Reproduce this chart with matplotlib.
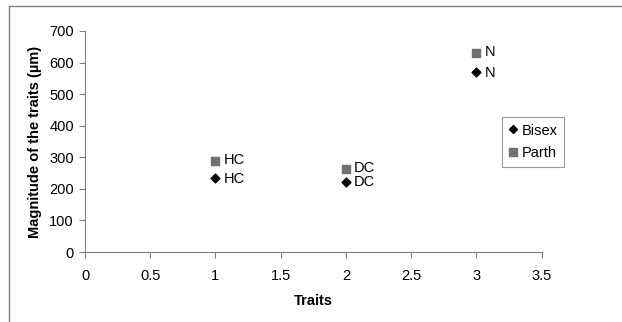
import matplotlib
matplotlib.use("Agg")
import matplotlib.pyplot as plt
from matplotlib.lines import Line2D

plt.rcParams['font.family'] = ['Liberation Sans', 'DejaVu Sans']

traits = ["HC", "DC", "N"]
trait_pos = [1, 2, 3]
bisex = [233, 223, 571]
parth = [288, 262, 630]

fig = plt.figure(figsize=(6.22, 3.22), dpi=100)
ax = fig.add_axes([85 / 622, 1 - 252 / 322, (541.5 - 85) / 622, (252 - 31) / 322])

ax.scatter(trait_pos, bisex, marker='D', s=20, color='black', zorder=3, label='Bisex')
ax.scatter(trait_pos, parth, marker='s', s=30, color='#707070', zorder=3, label='Parth')

# point labels to the right of each marker
for x, yb, yp, name in zip(trait_pos, bisex, parth, traits):
    ax.annotate(name, (x, yb), xytext=(6, -0.6), textcoords='offset points',
                va='center', ha='left', fontsize=10.5)
    ax.annotate(name, (x, yp), xytext=(6, 0.8), textcoords='offset points',
                va='center', ha='left', fontsize=10.5)

ax.set_xlim(0, 3.5)
ax.set_ylim(0, 700)
ax.set_xticks([0, 0.5, 1, 1.5, 2, 2.5, 3, 3.5])
ax.set_xticklabels(['0', '0.5', '1', '1.5', '2', '2.5', '3', '3.5'])
ax.set_yticks(range(0, 701, 100))

for s in ['top', 'right']:
    ax.spines[s].set_visible(False)
for s in ['left', 'bottom']:
    ax.spines[s].set_color('#808080')
    ax.spines[s].set_linewidth(0.8)
ax.tick_params(axis='both', direction='out', length=4, color='#808080',
               labelsize=10.5, width=0.8)
ax.tick_params(axis='x', pad=8)
ax.tick_params(axis='y', pad=4)

ax.set_xlabel('Traits', fontsize=10.5, fontweight='bold', labelpad=8)
ax.set_ylabel('Magnitude of the traits (µm)', fontsize=10.5, fontweight='bold', labelpad=5)

handles = [
    Line2D([], [], marker='D', linestyle='none', color='black', markersize=4.5),
    Line2D([], [], marker='s', linestyle='none', color='#707070', markersize=5.5),
]
leg = fig.legend(handles, ['Bisex', 'Parth'], loc='upper left',
                 bbox_to_anchor=(502 / 622, 1 - 117 / 322), fontsize=10.5,
                 frameon=True, fancybox=False, handlelength=0.6,
                 handletextpad=0.3, borderpad=0.45, labelspacing=0.6,
                 borderaxespad=0)
leg.get_frame().set_edgecolor('#808080')
leg.get_frame().set_linewidth(0.8)

# chart-area border (left and top edges)
fig.add_artist(Line2D([9 / 622, 9 / 622], [0, 1 - 6 / 322], transform=fig.transFigure,
                      color='#808080', linewidth=1))
fig.add_artist(Line2D([9 / 622, 1], [1 - 6 / 322, 1 - 6 / 322], transform=fig.transFigure,
                      color='#808080', linewidth=1))

fig.savefig('out.png', dpi=100)
